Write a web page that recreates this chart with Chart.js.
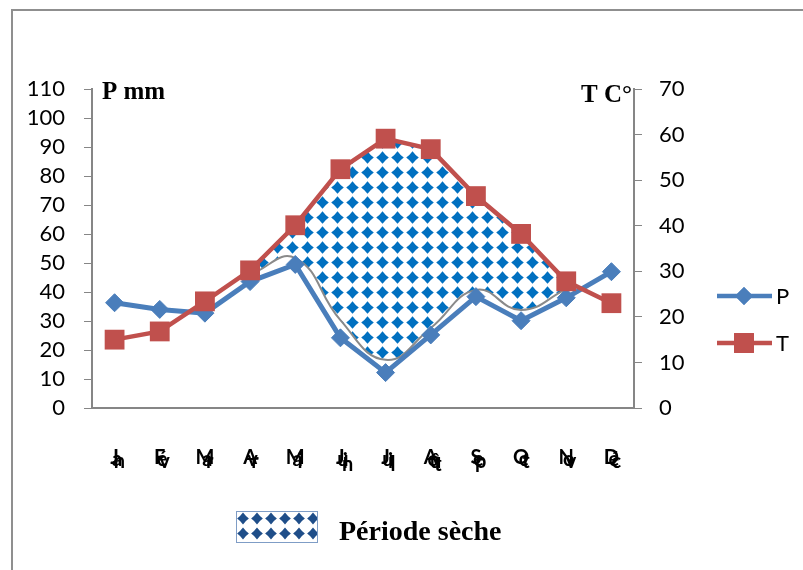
<!DOCTYPE html>
<html>
<head>
<meta charset="utf-8">
<script src="https://cdn.jsdelivr.net/npm/chart.js@4.4.0/dist/chart.umd.min.js"></script>
<style>
  html, body { margin: 0; padding: 0; background: #fff; }
  #cadre { position: relative; width: 803px; height: 570px; overflow: hidden; }
  #bord { position: absolute; left: 11px; top: 9px; width: 820px; height: 620px;
          border-left: 2px solid #8f8f8f; border-top: 2px solid #8f8f8f; }
  #diagramme { position: absolute; left: 0; top: 0; }
</style>
</head>
<body>
<div id="cadre">
  <div id="bord"></div>
  <canvas id="diagramme" width="803" height="570"></canvas>
</div>
<script>
// ************************* DONNÉES *************************
const mois = ["Jan", "Fév", "Mar", "Avr", "Mai", "Juin", "Juil", "Août", "Sep", "Oct", "Nov", "Déc"];
const precipitations = [36.3, 34, 32.7, 43.6, 49.5, 24.2, 12.2, 25.2, 38.4, 30.1, 38, 47];
const temperatures = [15, 16.8, 23.4, 30.2, 40.1, 52.4, 59.1, 56.8, 46.5, 38.2, 27.8, 23];
// limite basse de la zone "période sèche" (lue en mm)
const limiteSeche = [null, null, null, 46, 51.7, 30.3, 16.6, 27.6, 40.7, 33.8, 41, null];
const ticksP = [0, 10, 20, 30, 40, 50, 60, 70, 80, 90, 100, 110];
const ticksT = [0, 10, 20, 30, 40, 50, 60, 70];

const BLEU = "#4A7EBB";
const ROUGE = "#C0504D";
const GRIS = "#868686";

/**
 * Motif de losanges pour la période sèche
 */
function motifLosanges(ctx, w, h, couleur) {
  const c = document.createElement("canvas");
  c.width = w;
  c.height = h;
  const g = c.getContext("2d");
  const mx = w / 2;
  const my = h / 2;
  const r = Math.min(w, h) * 0.42;
  const k = 0.42;
  g.fillStyle = couleur;
  g.beginPath();
  g.moveTo(mx, my - r);
  g.quadraticCurveTo(mx + r * k, my - r * k, mx + r, my);
  g.quadraticCurveTo(mx + r * k, my + r * k, mx, my + r);
  g.quadraticCurveTo(mx - r * k, my + r * k, mx - r, my);
  g.quadraticCurveTo(mx - r * k, my - r * k, mx, my - r);
  g.fill();
  return ctx.createPattern(c, "repeat");
}

const canvas = document.getElementById("diagramme");
const ctx = canvas.getContext("2d");
const motif = motifLosanges(ctx, 15, 15, "#0070C0");
const motifLegende = motifLosanges(ctx, 14, 15, "#1F4E89");

// ************************* TEXTES ET LÉGENDES *************************
const textes = {
  id: "textes",
  afterDraw(chart) {
    const c = chart.ctx;
    c.save();
    c.fillStyle = "#000";
    c.font = "bold 25px 'Liberation Serif'";
    c.textBaseline = "alphabetic";
    c.textAlign = "left";
    c.fillText("P mm", 102, 99);
    c.textAlign = "right";
    c.fillText("T C°", 632, 102);

    // légende à droite (P et T)
    const series = [
      { nom: "P", couleur: BLEU, y: 296, forme: "rectRot", rayon: 9 },
      { nom: "T", couleur: ROUGE, y: 343, forme: "rect", rayon: 14 },
    ];
    series.forEach(function (s) {
      c.strokeStyle = s.couleur;
      c.lineWidth = 4.5;
      c.beginPath();
      c.moveTo(717, s.y);
      c.lineTo(772, s.y);
      c.stroke();
      c.fillStyle = s.couleur;
      Chart.helpers.drawPoint(c, { pointStyle: s.forme, radius: s.rayon, borderWidth: 0 }, 744, s.y);
      c.fill();
      c.fillStyle = "#000";
      c.font = "22px Lato";
      c.textAlign = "left";
      c.textBaseline = "middle";
      c.fillText(s.nom, 776, s.y + 1);
    });

    // légende du bas (période sèche)
    c.save();
    c.translate(236, 511);
    c.fillStyle = "#fff";
    c.fillRect(0, 0, 81, 31);
    c.fillStyle = motifLegende;
    c.fillRect(0, 0, 81, 31);
    c.restore();
    c.strokeStyle = "#7F9DC6";
    c.lineWidth = 1;
    c.strokeRect(236.5, 511.5, 81, 31);
    c.fillStyle = "#000";
    c.font = "bold 28px 'Liberation Serif'";
    c.textAlign = "left";
    c.textBaseline = "alphabetic";
    c.fillText("Période sèche", 339, 540);
    c.restore();
  },
};

// ************************* GRAPHIQUE *************************
new Chart(canvas, {
  type: "line",
  data: {
    labels: mois,
    datasets: [
      {
        label: "P",
        data: precipitations,
        yAxisID: "yP",
        borderColor: BLEU,
        backgroundColor: BLEU,
        borderWidth: 5,
        pointStyle: "rectRot",
        pointRadius: 9,
        pointBorderWidth: 1,
        fill: false,
        order: 1,
      },
      {
        label: "T",
        data: temperatures,
        yAxisID: "yT",
        borderColor: ROUGE,
        backgroundColor: ROUGE,
        borderWidth: 4.5,
        pointStyle: "rect",
        pointRadius: 14,
        pointBorderWidth: 0,
        fill: false,
        order: 0,
      },
      {
        label: "Période sèche",
        data: limiteSeche,
        yAxisID: "yP",
        borderColor: "#8a8a8a",
        borderWidth: 2,
        backgroundColor: motif,
        pointRadius: 0,
        tension: 0.45,
        fill: { target: 1 },
        order: 2,
      },
    ],
  },
  options: {
    responsive: false,
    animation: false,
    devicePixelRatio: 1,
    layout: { padding: { top: 89, left: 0, right: 0, bottom: 0 } },
    plugins: {
      legend: { display: false },
      tooltip: { enabled: false },
      filler: { propagate: false },
    },
    scales: {
      x: {
        type: "category",
        offset: true,
        grid: { display: false, drawTicks: false },
        border: { display: true, color: GRIS, width: 2 },
        afterFit: function (scale) {
          scale.height = 162;
        },
        ticks: {
          autoSkip: false,
          maxRotation: 0,
          minRotation: 0,
          padding: 48,
          color: "#000",
          font: { family: "Lato", size: 20, weight: "bold", lineHeight: 0.12 },
          callback: function (value) {
            // lettres superposées comme dans l'original
            return this.getLabelForValue(value).split("").map((l, i) => " ".repeat(i) + l);
          },
        },
      },
      yP: {
        position: "left",
        min: ticksP[0],
        max: ticksP[ticksP.length - 1],
        afterBuildTicks: function (scale) {
          scale.ticks = ticksP.map((v) => ({ value: v }));
        },
        afterFit: function (scale) {
          scale.width = 92;
        },
        grid: { drawOnChartArea: false, drawTicks: true, tickLength: 8, tickColor: GRIS, tickWidth: 1 },
        border: { display: true, color: GRIS, width: 2 },
        ticks: { autoSkip: false, padding: 19, color: "#000", font: { family: "Lato", size: 22 } },
      },
      yT: {
        position: "right",
        min: ticksT[0],
        max: ticksT[ticksT.length - 1],
        afterBuildTicks: function (scale) {
          scale.ticks = ticksT.map((v) => ({ value: v }));
        },
        afterFit: function (scale) {
          scale.width = 169;
        },
        grid: { drawOnChartArea: false, drawTicks: true, tickLength: 8, tickColor: GRIS, tickWidth: 1 },
        border: { display: true, color: GRIS, width: 2 },
        ticks: { autoSkip: false, padding: 17, color: "#000", font: { family: "Lato", size: 22 } },
      },
    },
  },
  plugins: [textes],
});
</script>
</body>
</html>
